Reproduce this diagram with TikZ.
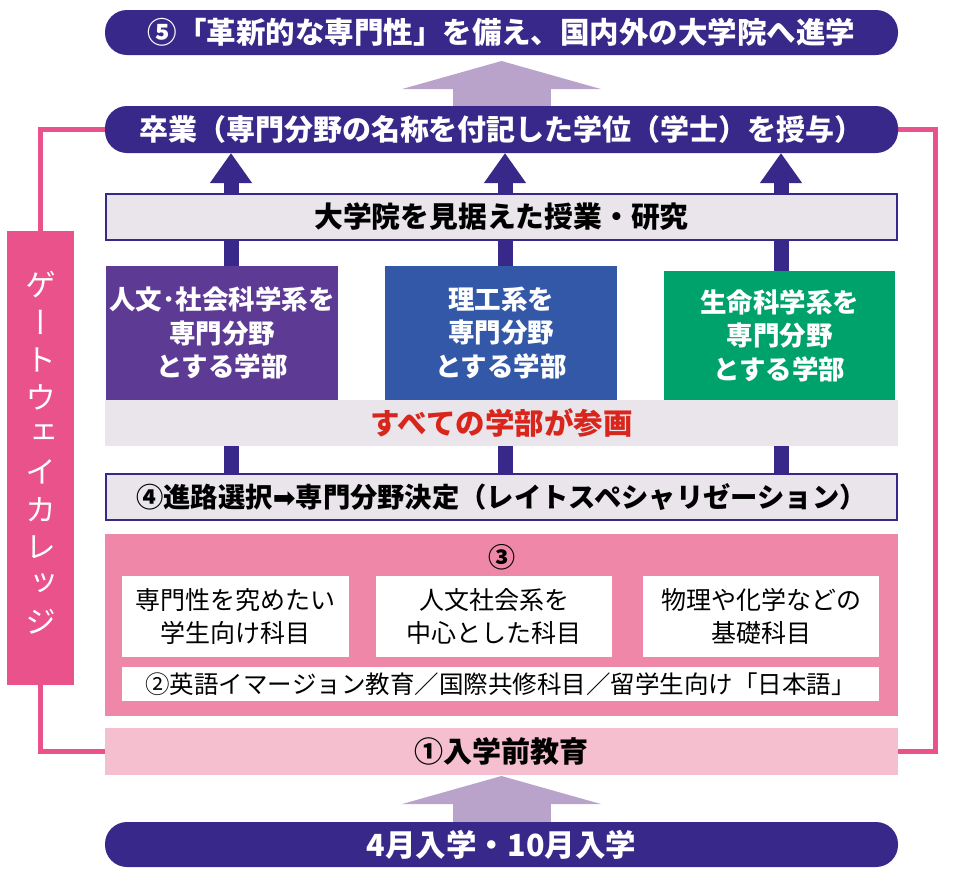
\documentclass[tikz,border=0pt]{standalone}
\usepackage{fontspec}
\setmainfont{Noto Sans CJK JP}
\newfontfamily\vjp[RawFeature=+vert]{Noto Sans CJK JP}
\newfontfamily\symfont{DejaVu Sans}
\usetikzlibrary{arrows.meta,backgrounds}
\definecolor{indigo}{HTML}{37288A}
\definecolor{lilac}{HTML}{BAA3CB}
\definecolor{facA}{HTML}{5D3A93}
\definecolor{facB}{HTML}{3358A8}
\definecolor{facC}{HTML}{00A26B}
\definecolor{greyband}{HTML}{E9E5EB}
\definecolor{rosebox}{HTML}{EF87A8}
\definecolor{paleros}{HTML}{F6BFD0}
\definecolor{hotpink}{HTML}{E9528A}
\definecolor{redtxt}{HTML}{D9261C}
\tikzset{
  pill/.style={fill=indigo, rounded corners=22pt, minimum width=793pt,
    minimum height=45pt, text=white, font=\bfseries\fontsize{29.5}{30}\selectfont},
  framedbox/.style={draw=indigo, line width=2pt, fill=greyband, minimum width=791pt,
    minimum height=46pt, font=\bfseries\fontsize{28.8}{30}\selectfont},
  faculty/.style={minimum width=232pt, text=white, align=center,
    font=\bfseries\fontsize{26.5}{33.5}\selectfont},
  subject/.style={fill=white, minimum height=81pt, align=center,
    font=\fontsize{25}{33}\selectfont},
  bigarrow/.style={draw=lilac, line width=98pt, -{Triangle[width=198pt,length=28pt]}},
  darkarrow/.style={draw=indigo, line width=15pt, -{Triangle[width=40pt,length=30pt]}},
  bar/.style={draw=indigo, line width=15pt},
  frameline/.style={draw=hotpink, line width=5pt},
}
\begin{document}
\begin{tikzpicture}[x=1pt,y=-1pt,inner sep=0pt,outer sep=0pt]
  \useasboundingbox (0,0) rectangle (962,876);
  % column positions of the vertical arrows
  \coordinate (c1) at (231,0);
  \coordinate (c2) at (505,0);
  \coordinate (c3) at (781,0);
  \coordinate (fr) at (935,0);

  % main stack, top to bottom
  \node[pill] (goal) at (501.5,32.5) {⑤「革新的な専門性」を備え、国内外の大学院へ進学};
  \node[pill, minimum height=47pt, font=\bfseries\fontsize{29}{30}\selectfont] (grad) at (501.5,129.5) {卒業（専門分野の名称を付記した学位（学士）を授与）};
  \node[framedbox] (study) at (501.5,216.5) {大学院を見据えた授業・研究};
  \node[faculty, fill=facA, minimum height=134pt] (hum) at (222,333) {人文･社会科学系を\\専門分野\\とする学部};
  \node[faculty, fill=facB, minimum height=134pt] (sci) at (501,333) {理工系を\\専門分野\\とする学部};
  \node[faculty, fill=facC, minimum height=129pt, minimum width=231pt] (life) at (779.5,335.5) {生命科学系を\\専門分野\\とする学部};
  \node[fill=greyband, minimum width=793pt, minimum height=46pt, text=redtxt,
    font=\bfseries\fontsize{29.5}{30}\selectfont] (all) at (501.5,423) {すべての学部が参画};
  \node[framedbox, font=\bfseries\fontsize{27.3}{30}\selectfont] (decide) at (501.5,497)
    {④進路選択{\symfont ➡}専門分野決定（レイトスペシャリゼーション）};

  % block 3
  \node[fill=rosebox, minimum width=793pt, minimum height=182pt] (blk) at (501.5,625) {};
  \node[font=\bfseries\fontsize{27}{30}\selectfont] (n3) at (501.5,557) {③};
  \node[subject, minimum width=227pt] (subA) at (235.5,616.5) {専門性を究めたい\\学生向け科目};
  \node[subject, minimum width=236pt] (subB) at (494,616.5) {人文社会系を\\中心とした科目};
  \node[subject, minimum width=236pt] (subC) at (761,616.5) {物理や化学などの\\基礎科目};
  \node[fill=white, minimum width=757pt, minimum height=34pt,
    font=\fontsize{24.5}{30}\selectfont] (lang) at (500.5,684)
    {②英語イマージョン教育／国際共修科目／留学生向け「日本語」};

  \node[fill=paleros, minimum width=793pt, minimum height=47pt,
    font=\bfseries\fontsize{29}{30}\selectfont] (pre) at (501.5,751.5) {①入学前教育};
  \node[pill, font=\bfseries\fontsize{30.5}{30}\selectfont] (entry) at (501.5,844.5) {4月入学・10月入学};

  % gateway college
  \node[fill=hotpink, minimum width=67pt, minimum height=454pt] (gw) at (40.5,458) {};
  \foreach \ch [count=\i] in {ゲ,ー,ト,ウ,ェ,イ,カ,レ,ッ,ジ}
    \node[text=white, font=\vjp\fontsize{31}{31}\selectfont] (gw\i) at (41,{285+37.4*(\i-1)}) {\ch};

  % arrows
  \draw[bigarrow, shorten >=6pt] (grad.north) -- (goal.south);
  \draw[bigarrow, shorten >=1pt] (entry.north) -- (pre.south);
  \foreach \c in {c1,c2,c3}
    \draw[darkarrow] (\c |- study.north) -- (\c |- grad.south);

  \begin{scope}[on background layer]
    \foreach \c in {c1,c2,c3}
      \draw[bar] (\c |- decide.north) -- (\c |- study.south);
    \draw[frameline] (grad.west) -| (gw.north);
    \draw[frameline] (gw.south) |- (pre.west);
    \draw[frameline] (grad.east) -| (fr |- pre.east) -- (pre.east);
  \end{scope}
\end{tikzpicture}
\end{document}
